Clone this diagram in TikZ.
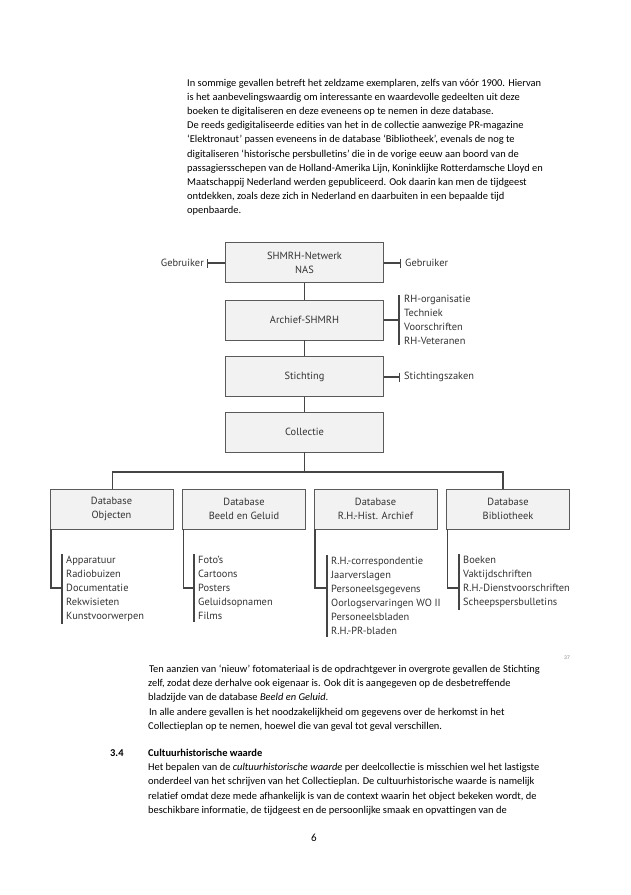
\documentclass[tikz,border=0pt]{standalone}
\usepackage{fontspec}
\setmainfont[Ligatures=NoCommon]{Carlito}
\newfontfamily\diagfont{PT Sans}
\usetikzlibrary{arrows.meta,calc}
\definecolor{boxfill}{HTML}{F2F2F2}
\definecolor{boxline}{HTML}{5A5A5A}
\definecolor{linecol}{HTML}{454545}
\definecolor{dtext}{HTML}{333333}
\begin{document}
\begin{tikzpicture}[x=1pt,y=-1pt,
  body/.style={anchor=base west, inner sep=0, font=\fontsize{10.45}{14}\selectfont},
  box/.style={draw=boxline, fill=boxfill, line width=0.9pt, minimum width=158pt, minimum height=40pt, inner sep=0, font=\diagfont\fontsize{10.4}{14}\selectfont, text=dtext, align=center},
  dbbox/.style={box, minimum width=123pt},
  lbl/.style={inner sep=0, font=\diagfont\fontsize{10.4}{14}\selectfont, text=dtext, align=left},
  conn/.style={draw=linecol, line width=1.4pt},
  bar/.style={conn, -{Bar[width=9pt,line width=1.4pt]}}
]
\useasboundingbox (0,0) rectangle (631,895);
\fill[white] (0,0) rectangle (631,895);

% top paragraph
\node[body] (t1) at (187,86.0) {In sommige gevallen betreft het zeldzame exemplaren, zelfs van vóór 1900. Hiervan};
\node[body] (t2) at (187,100.2) {is het aanbevelingswaardig om interessante en waardevolle gedeelten uit deze};
\node[body] (t3) at (187,114.4) {boeken te digitaliseren en deze eveneens op te nemen in deze database.};
\node[body] (t4) at (187,128.6) {De reeds gedigitaliseerde edities van het in de collectie aanwezige PR-magazine};
\node[body] (t5) at (187,142.8) {‘Elektronaut’ passen eveneens in de database ‘Bibliotheek’, evenals de nog te};
\node[body] (t6) at (187,157.0) {digitaliseren ‘historische persbulletins’ die in de vorige eeuw aan boord van de};
\node[body] (t7) at (187,171.2) {passagiersschepen van de Holland-Amerika Lijn, Koninklijke Rotterdamsche Lloyd en};
\node[body] (t8) at (187,185.4) {Maatschappij Nederland werden gepubliceerd. Ook daarin kan men de tijdgeest};
\node[body] (t9) at (187,199.6) {ontdekken, zoals deze zich in Nederland en daarbuiten in een bepaalde tijd};
\node[body] (t10) at (187,213.8) {openbaarde.};

% main chain
\node[box] (net) at (304.5,262.5) {SHMRH-Netwerk\\NAS};
\node[box] (arch) at (304.5,320) {Archief-SHMRH};
\node[box] (stich) at (304.5,376.5) {Stichting};
\node[box] (coll) at (304.5,432) {Collectie};
\draw[conn] (net) -- (arch);
\draw[conn] (arch) -- (stich);
\draw[conn] (stich) -- (coll);

\node[lbl, anchor=east] (gleft) at (204,263) {Gebruiker};
\node[lbl, anchor=west] (gright) at (405,263) {Gebruiker};
\draw[bar] (net.west |- gleft.east) -- ([xshift=3]gleft.east);
\draw[bar] (net.east |- gright.west) -- ([xshift=-4]gright.west);

\node[lbl, anchor=west] (alist) at (404,320) {RH-organisatie\\Techniek\\Voorschriften\\RH-Veteranen};
\draw[conn] (arch.east) -- ([xshift=-5]alist.west);
\draw[conn] ([xshift=-5]alist.north west) -- ([xshift=-5]alist.south west);

\node[lbl, anchor=west] (szak) at (404,377) {Stichtingszaken};
\draw[bar] (stich.east |- szak.west) -- ([xshift=-4]szak.west);

% databases
\node[dbbox] (dobj) at (111.5,509) {Database\\Objecten};
\node[dbbox] (dbg) at (244,509) {Database\\Beeld en Geluid};
\node[dbbox] (drh) at (375.5,509) {Database\\R.H.-Hist. Archief};
\node[dbbox] (dbib) at (508,509) {Database\\Bibliotheek};
\coordinate (busy) at (0,472);
\draw[conn] (coll.south) -- (coll.south |- busy);
\draw[conn] ([xshift=1]dobj.north) |- ($(dbib.north |- busy)+(-5,0)$) -- ($(dbib.north)+(-5,0)$);

% lists
\coordinate (brk) at (0,588);
\node[lbl, anchor=north west] (lobj) at (66,556) {Apparatuur\\Radiobuizen\\Documentatie\\Rekwisieten\\Kunstvoorwerpen};
\node[lbl, anchor=north west] (lbg) at (198,556) {Foto’s\\Cartoons\\Posters\\Geluidsopnamen\\Films};
\node[lbl, anchor=north west] (lrh) at (331,557) {R.H.-correspondentie\\Jaarverslagen\\Personeelsgegevens\\Oorlogservaringen WO II\\Personeelsbladen\\R.H.-PR-bladen};
\node[lbl, anchor=north west] (lbib) at (463,556) {Boeken\\Vaktijdschriften\\R.H.-Dienstvoorschriften\\Scheepspersbulletins};

\foreach \b/\l in {dobj/lobj, dbg/lbg, drh/lrh, dbib/lbib}{
  \draw[conn] ($(\b.south west)+(1.5,0)$) |- ($(\l.west |- brk)+(-4,0)$);
  \draw[conn] ($(\l.north west)+(-4,-2)$) -- ($(\l.south west)+(-4,2)$);
}

% bottom text
\node[inner sep=0, font=\fontsize{5.5}{6}\selectfont, text=gray] (pg37) at (567,658) {37};
\node[body] (b1) at (146.5,672.5) {\ Ten aanzien van ‘nieuw’ fotomateriaal is de opdrachtgever in overgrote gevallen de Stichting};
\node[body] (b2) at (148,686.7) {zelf, zodat deze derhalve ook eigenaar is. Ook dit is aangegeven op de desbetreffende};
\node[body] (b3) at (148,700.9) {bladzijde van de database \textit{Beeld en Geluid}.};
\node[body] (b4) at (146.5,715.1) {\ In alle andere gevallen is het noodzakelijkheid om gegevens over de herkomst in het};
\node[body] (b5) at (148,729.3) {Collectieplan op te nemen, hoewel die van geval tot geval verschillen.};

\node[body, font=\bfseries\fontsize{10.45}{14}\selectfont] (h34) at (110,756) {3.4};
\node[body, font=\bfseries\fontsize{10.45}{14}\selectfont] (hcw) at (148,756) {Cultuurhistorische waarde};
\node[body] (c1) at (148,770.5) {Het bepalen van de \textit{cultuurhistorische waarde} per deelcollectie is misschien wel het lastigste};
\node[body] (c2) at (148,784.8) {onderdeel van het schrijven van het Collectieplan. De cultuurhistorische waarde is namelijk};
\node[body] (c3) at (148,799.0) {relatief omdat deze mede afhankelijk is van de context waarin het object bekeken wordt, de};
\node[body] (c4) at (148,813.3) {beschikbare informatie, de tijdgeest en de persoonlijke smaak en opvattingen van de};

\node[inner sep=0, font=\fontsize{11}{13}\selectfont] (pnum) at (314,838) {6};
\end{tikzpicture}
\end{document}
